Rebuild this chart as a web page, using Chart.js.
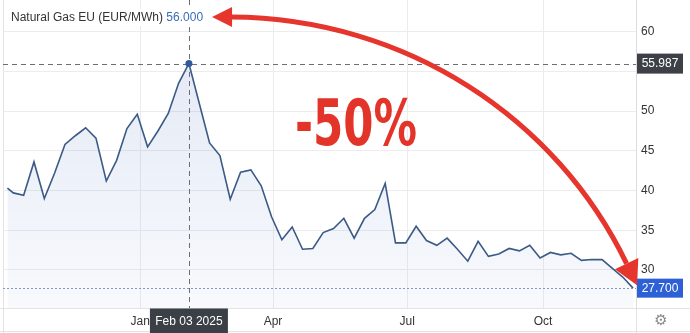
<!DOCTYPE html>
<html>
<head>
<meta charset="utf-8">
<script src="https://cdn.jsdelivr.net/npm/chart.js@4.4.1/dist/chart.umd.min.js"></script>
<style>
html, body { margin: 0; padding: 0; background: #fff; }
#wrap { width: 690px; height: 333px; position: relative; }
</style>
</head>
<body>
<div id="wrap"><canvas id="chart"></canvas></div>
<script>
// weekly closes
const dates = [
  '2024-10-03','2024-10-07','2024-10-14','2024-10-21','2024-10-28','2024-11-04','2024-11-11','2024-11-18',
  '2024-11-25','2024-12-02','2024-12-09','2024-12-16','2024-12-23','2024-12-30','2025-01-06','2025-01-13',
  '2025-01-20','2025-01-27','2025-02-03','2025-02-10','2025-02-17','2025-02-24','2025-03-03','2025-03-10',
  '2025-03-17','2025-03-24','2025-03-31','2025-04-07','2025-04-14','2025-04-21','2025-04-28','2025-05-05',
  '2025-05-12','2025-05-19','2025-05-26','2025-06-02','2025-06-09','2025-06-16','2025-06-23','2025-06-30',
  '2025-07-07','2025-07-14','2025-07-21','2025-07-28','2025-08-04','2025-08-11','2025-08-18','2025-08-25',
  '2025-09-01','2025-09-08','2025-09-15','2025-09-22','2025-09-29','2025-10-06','2025-10-13','2025-10-20',
  '2025-10-27','2025-11-03','2025-11-10','2025-11-17','2025-11-24','2025-12-01'
];
const prices = [
  40.3, 39.7, 39.4, 43.6, 39.0, 42.2, 45.8, 46.9,
  47.9, 46.6, 41.2, 43.8, 47.8, 49.6, 45.5, 47.5,
  49.7, 53.5, 56.0, 51.0, 46.0, 44.4, 38.9, 42.3,
  42.6, 40.6, 36.7, 33.8, 35.4, 32.6, 32.7, 34.7,
  35.2, 36.5, 34.0, 36.5, 37.6, 40.9, 33.4, 33.4,
  35.5, 33.7, 33.1, 34.0, 32.6, 31.1, 33.6, 31.7,
  32.0, 32.7, 32.4, 33.1, 31.5, 32.2, 31.9, 32.1,
  31.2, 31.3, 31.3, 30.2, 29.1, 27.7
];
const tickDates = ['2025-01-01', '2025-04-01', '2025-07-01', '2025-10-01'];
const tickLabels = ['Jan', 'Apr', 'Jul', 'Oct'];
const yTicks = [30, 35, 40, 45, 50, 55, 60];
const xStart = '2024-09-30';
const xEnd = '2025-12-03';

const seriesName = 'Natural Gas EU (EUR/MWh)';
const headerValue = '56.000';
const peakDate = '2025-02-03';
const peakLabel = 'Feb 03 2025';
const crossValue = 55.987;
const lastValue = 27.7;
const dropText = '-50%';

const FONT = '"Liberation Sans", Arial, sans-serif';

function dayOf(s) {
  return (Date.parse(s) - Date.parse('2025-01-01')) / 864e5;
}

const peakIdx = dates.indexOf(peakDate);
const points = dates.map((d, i) => ({ x: dayOf(d), y: prices[i] }));

function arrowHead(ctx, tx, ty, ang, len, half) {
  const bx = tx - Math.cos(ang) * len, by = ty - Math.sin(ang) * len;
  const nx = -Math.sin(ang) * half, ny = Math.cos(ang) * half;
  ctx.beginPath();
  ctx.moveTo(tx, ty);
  ctx.lineTo(bx + nx, by + ny);
  ctx.lineTo(bx - nx, by - ny);
  ctx.closePath();
  ctx.fill();
  return { x: bx, y: by };
}

function labelBox(ctx, text, cx, cy, w, h, bg) {
  ctx.fillStyle = bg;
  ctx.fillRect(cx - w / 2, cy - h / 2, w, h);
  ctx.fillStyle = '#fff';
  ctx.font = '12px ' + FONT;
  ctx.textAlign = 'center';
  ctx.textBaseline = 'middle';
  ctx.fillText(text, cx, cy + 0.5);
}

const overlay = {
  id: 'overlay',
  beforeDraw(chart) {
    const ctx = chart.ctx, a = chart.chartArea;
    ctx.save();
    ctx.strokeStyle = '#e3e3e3';
    ctx.lineWidth = 1;
    ctx.beginPath();
    ctx.moveTo(a.left + 0.5, 0); ctx.lineTo(a.left + 0.5, chart.height);
    ctx.moveTo(0, a.bottom + 0.5); ctx.lineTo(chart.width, a.bottom + 0.5);
    ctx.moveTo(a.right + 0.5, a.bottom); ctx.lineTo(a.right + 0.5, chart.height);
    ctx.moveTo(0, chart.height - 1.5); ctx.lineTo(chart.width, chart.height - 1.5);
    ctx.stroke();
    ctx.restore();
  },
  afterDatasetsDraw(chart) {
    const ctx = chart.ctx, a = chart.chartArea;
    const xs = chart.scales.x, ys = chart.scales.y;
    const px = Math.round(xs.getPixelForValue(dayOf(peakDate))) + 0.5;
    const cy = Math.round(ys.getPixelForValue(crossValue)) + 0.5;
    const ly = Math.round(ys.getPixelForValue(lastValue)) + 0.5;
    ctx.save();
    // last price line
    ctx.strokeStyle = '#8298bd';
    ctx.setLineDash([2, 2]);
    ctx.beginPath();
    ctx.moveTo(a.left, ly); ctx.lineTo(a.right, ly);
    ctx.stroke();
    // crosshair
    ctx.strokeStyle = '#6b6f75';
    ctx.setLineDash([5, 4]);
    ctx.beginPath();
    ctx.moveTo(px, 0); ctx.lineTo(px, a.bottom);
    ctx.moveTo(a.left, cy); ctx.lineTo(a.right, cy);
    ctx.stroke();
    ctx.setLineDash([]);
    // peak dot
    const pe = chart.getDatasetMeta(0).data[peakIdx];
    ctx.fillStyle = '#2f5b9c';
    ctx.beginPath();
    ctx.arc(pe.x, pe.y, 3.5, 0, Math.PI * 2);
    ctx.fill();
    ctx.restore();
  },
  afterDraw(chart) {
    const ctx = chart.ctx, a = chart.chartArea;
    const xs = chart.scales.x, ys = chart.scales.y;
    const px = xs.getPixelForValue(dayOf(peakDate));
    const axisMid = a.right + (chart.width - a.right) / 2 - 3;
    ctx.save();
    labelBox(ctx, crossValue.toFixed(3), axisMid, ys.getPixelForValue(crossValue), 46, 20, '#3d4147');
    labelBox(ctx, lastValue.toFixed(3), axisMid, ys.getPixelForValue(lastValue), 46, 19, '#2d5fd6');
    labelBox(ctx, peakLabel, px, a.bottom + 13, 78, 25, '#3b3f46');

    // gear
    ctx.fillStyle = '#8a8a8a';
    ctx.font = '15px "DejaVu Sans", sans-serif';
    ctx.textAlign = 'center';
    ctx.textBaseline = 'middle';
    ctx.fillText('\u2699', axisMid + 1, a.bottom + 13);

    // header
    ctx.font = '12px ' + FONT;
    ctx.textAlign = 'left';
    ctx.textBaseline = 'alphabetic';
    const w1 = ctx.measureText(seriesName + ' ').width;
    const w2 = ctx.measureText(headerValue).width;
    const hx = a.left + 8;
    ctx.fillStyle = '#fff';
    ctx.fillRect(hx - 3, 9, w1 + w2 + 6, 17);
    ctx.fillStyle = '#333';
    ctx.fillText(seriesName + ' ', hx, 21);
    ctx.fillStyle = '#3a6db5';
    ctx.fillText(headerValue, hx + w1, 21);

    // red arrow
    const red = '#e5352c';
    ctx.fillStyle = red;
    const s = arrowHead(ctx, hx + w1 + w2 + 9, 17, Math.PI, 20, 10);
    const last = chart.getDatasetMeta(0).data[prices.length - 1];
    const ex = last.x + 4, ey = last.y - 3;
    const c2x = -70, c2y = -145;
    const ang = Math.atan2(-c2y, -c2x);
    const e = arrowHead(ctx, ex, ey, ang, 24, 13);
    ctx.strokeStyle = red;
    ctx.lineWidth = 5;
    ctx.beginPath();
    ctx.moveTo(s.x - 1, s.y);
    ctx.bezierCurveTo(s.x + 175, s.y + 1, e.x + c2x, e.y + c2y, e.x, e.y);
    ctx.stroke();

    // -50%
    ctx.font = 'bold 64px "Liberation Sans Narrow", "DejaVu Sans Condensed", ' + FONT;
    const tw = ctx.measureText(dropText).width;
    ctx.translate(295, 145);
    ctx.scale(122 / tw, 1);
    ctx.fillStyle = '#e3342a';
    ctx.fillText(dropText, 0, 0);
    ctx.restore();
  }
};

const ctx = document.getElementById('chart').getContext('2d');
const chart = new Chart(ctx, {
  type: 'line',
  data: {
    datasets: [{
      data: points,
      borderColor: '#3b5a86',
      borderWidth: 1.6,
      pointRadius: 0,
      tension: 0,
      fill: 'start',
      backgroundColor: (c) => {
        const a = c.chart.chartArea;
        if (!a) return 'rgba(70,110,190,0.1)';
        const g = c.chart.ctx.createLinearGradient(0, a.top, 0, a.bottom);
        g.addColorStop(0, 'rgba(70,110,190,0.17)');
        g.addColorStop(1, 'rgba(70,110,190,0.04)');
        return g;
      }
    }]
  },
  options: {
    responsive: true,
    maintainAspectRatio: false,
    animation: false,
    layout: { padding: { left: 3, top: 0, right: 0, bottom: 0 } },
    plugins: { legend: { display: false }, tooltip: { enabled: false } },
    scales: {
      x: {
        type: 'linear',
        min: dayOf(xStart),
        max: dayOf(xEnd),
        afterBuildTicks: (sc) => { sc.ticks = tickDates.map(d => ({ value: dayOf(d) })); },
        afterFit: (sc) => { sc.height = 25; sc.paddingLeft = 0; sc.paddingRight = 0; },
        ticks: {
          autoSkip: false,
          maxRotation: 0,
          padding: 6,
          color: '#333',
          font: { size: 12, family: FONT },
          callback: (v, i) => tickLabels[i]
        },
        grid: { color: '#ececec', drawTicks: false },
        border: { display: false }
      },
      y: {
        position: 'right',
        min: 25.2,
        max: 64,
        afterBuildTicks: (sc) => { sc.ticks = yTicks.map(v => ({ value: v })); },
        afterFit: (sc) => { sc.width = 54; sc.paddingTop = 0; sc.paddingBottom = 0; },
        ticks: {
          padding: 5,
          color: '#333',
          font: { size: 12, family: FONT },
          callback: (v) => Math.abs(v - crossValue) < 2 ? '' : v
        },
        grid: { color: '#ececec', drawTicks: false },
        border: { display: true, color: '#dcdcdc' }
      }
    }
  },
  plugins: [overlay]
});
</script>
</body>
</html>
